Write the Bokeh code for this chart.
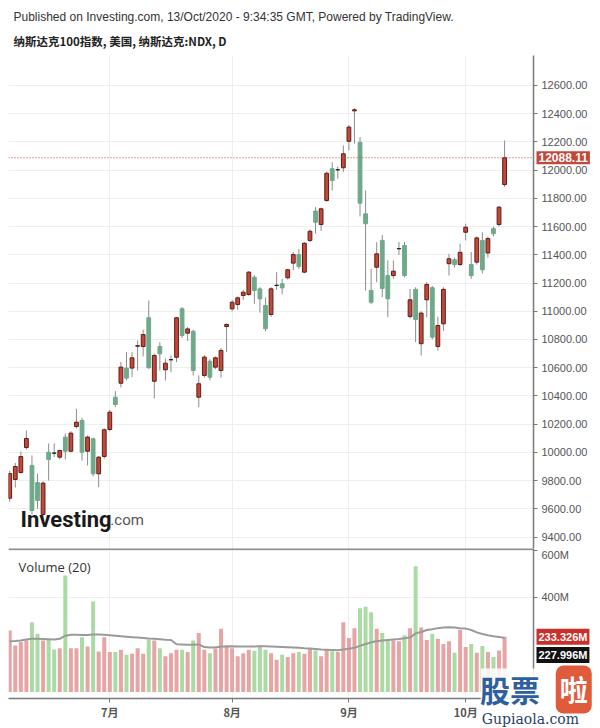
from bokeh.plotting import figure
from bokeh.models import (Range1d, FixedTicker, NumeralTickFormatter, Label, Span, ColumnDataSource, GridBox,
                          BoxAnnotation)
from bokeh.layouts import column
from bokeh.embed import file_html
from bokeh.resources import INLINE

# ---------------- data (NASDAQ 100, daily) ----------------
dates = [
    "2020-06-05", "2020-06-08", "2020-06-09", "2020-06-10", "2020-06-11", "2020-06-12", "2020-06-15", "2020-06-16",
    "2020-06-17", "2020-06-18", "2020-06-19", "2020-06-22", "2020-06-23", "2020-06-24", "2020-06-25", "2020-06-26",
    "2020-06-29", "2020-06-30",
    "2020-07-01", "2020-07-02", "2020-07-06", "2020-07-07", "2020-07-08", "2020-07-09", "2020-07-10", "2020-07-13",
    "2020-07-14", "2020-07-15", "2020-07-16", "2020-07-17", "2020-07-20", "2020-07-21", "2020-07-22", "2020-07-23",
    "2020-07-24", "2020-07-27", "2020-07-28", "2020-07-29", "2020-07-30", "2020-07-31",
    "2020-08-03", "2020-08-04", "2020-08-05", "2020-08-06", "2020-08-07", "2020-08-10", "2020-08-11", "2020-08-12",
    "2020-08-13", "2020-08-14", "2020-08-17", "2020-08-18", "2020-08-19", "2020-08-20", "2020-08-21", "2020-08-24",
    "2020-08-25", "2020-08-26", "2020-08-27", "2020-08-28", "2020-08-31",
    "2020-09-01", "2020-09-02", "2020-09-03", "2020-09-04", "2020-09-08", "2020-09-09", "2020-09-10", "2020-09-11",
    "2020-09-14", "2020-09-15", "2020-09-16", "2020-09-17", "2020-09-18", "2020-09-21", "2020-09-22", "2020-09-23",
    "2020-09-24", "2020-09-25", "2020-09-28", "2020-09-29", "2020-09-30",
    "2020-10-01", "2020-10-02", "2020-10-05", "2020-10-06", "2020-10-07", "2020-10-08", "2020-10-09", "2020-10-12",
]

opens = [
    9675, 9808, 9857, 10034, 9907, 9786, 9560, 10001, 9995, 9966, 10108, 10008, 10183, 10226, 10008, 10096, 9848, 9971,
    10162, 10391, 10490, 10597, 10597, 10752, 10750, 10954, 10504, 10750, 10585, 10656, 10674, 11017, 10845, 10858,
    10391, 10545, 10646, 10604, 10580, 10892,
    11017, 11048, 11112, 11119, 11241, 11159, 11041, 10977, 11183, 11195, 11237, 11341, 11402, 11277, 11502, 11710,
    11615, 11785, 12010, 12002, 12017,
    12205, 12420, 12198, 11691, 11147, 11312, 11502, 11253, 11253, 11443, 11466, 10963, 11155, 10770, 11081, 11167,
    10750, 10911, 11337, 11365, 11331,
    11560, 11331, 11348, 11502, 11413, 11585, 11615, 11898,
]
highs = [
    9870, 9925, 10006, 10155, 9978, 9850, 9795, 10063, 10063, 10020, 10134, 10150, 10309, 10245, 10120, 10105, 9975, 10170,
    10300, 10434, 10640, 10710, 10710, 10793, 10870, 11076, 10700, 10781, 10665, 10687, 10960, 11030, 10890, 10870,
    10545, 10690, 10660, 10680, 10740, 10915,
    11080, 11105, 11150, 11285, 11255, 11170, 11097, 11170, 11277, 11230, 11300, 11420, 11440, 11490, 11580, 11738,
    11735, 11990, 12056, 12026, 12175,
    12320, 12439, 12234, 11856, 11300, 11490, 11540, 11360, 11360, 11490, 11490, 11159, 11170, 11000, 11206, 11180,
    10960, 11170, 11407, 11380, 11480,
    11620, 11420, 11530, 11560, 11530, 11600, 11745, 12210,
]
lows = [
    9650, 9751, 9850, 10020, 9560, 9600, 9500, 9800, 9966, 9950, 9950, 10000, 10170, 9942, 9907, 9830, 9753, 9955,
    10150, 10320, 10460, 10510, 10533, 10580, 10680, 10590, 10382, 10580, 10510, 10568, 10640, 10810, 10790, 10545,
    10320, 10530, 10510, 10590, 10530, 10710,
    11000, 11010, 11080, 11110, 11053, 10990, 10858, 10960, 11152, 11120, 11225, 11290, 11300, 11270, 11490, 11549,
    11570, 11775, 11856, 11939, 11986,
    12139, 12187, 11672, 11147, 11050, 11206, 11100, 10958, 11230, 11400, 11240, 10947, 10781, 10686, 10958, 10800,
    10720, 10860, 11253, 11310, 11320,
    11502, 11230, 11330, 11268, 11380, 11530, 11600, 11880,
]
closes = [
    9850, 9900, 9970, 10098, 9588, 9659, 9782, 9950, 9994, 10013, 10008, 10136, 10214, 10001, 10108, 9848, 9966, 10160,
    10285, 10339, 10604, 10526, 10670, 10756, 10835, 10600, 10687, 10698, 10632, 10657, 10954, 10828, 10875, 10580,
    10486, 10675, 10533, 10670, 10722, 10906,
    11064, 11095, 11135, 11277, 11147, 11088, 10876, 11159, 11184, 11166, 11294, 11402, 11317, 11482, 11567, 11631,
    11726, 11978, 11927, 12003, 12116,
    12305, 12428, 11766, 11620, 11064, 11407, 11161, 11088, 11284, 11444, 11253, 11081, 10942, 10987, 11190, 10816,
    10899, 11155, 11372, 11331, 11418,
    11596, 11253, 11520, 11294, 11515, 11549, 11738, 12088.11,
]
# volume in millions
volumes = [
    260, 197, 211, 218, 295, 246, 218, 225, 180, 185, 493, 185, 185, 232, 192, 383, 171, 232,
    169, 169, 179, 157, 162, 185, 162, 222, 218, 185, 151, 164, 179, 179, 169, 218, 249, 179, 164, 183, 267, 197,
    185, 151, 164, 179, 174, 197, 179, 164, 136, 157, 148, 164, 169, 162, 185, 176, 151, 179, 172, 169, 295,
    228, 270, 354, 361, 337, 267, 249, 220, 218, 215, 240, 270, 532, 273, 220, 246, 225, 203, 215, 166, 263,
    190, 203, 166, 194, 169, 148, 176, 233.326,
]
# Volume MA(20) line (millions)
vol_ma = [
    215, 216, 218, 222, 225, 225, 224, 223, 222, 225, 238, 242, 242, 241, 241, 243, 243, 242,
    240, 238, 236, 234, 232, 230, 228, 226, 225, 223, 221, 220, 202, 201, 200, 200, 201, 190, 188, 188, 192, 192,
    193, 192, 192, 192, 192, 193, 193, 192, 191, 190, 189, 188, 187, 185, 184, 182, 180, 179, 178, 177, 180,
    183, 187, 195, 203, 210, 215, 218, 220, 222, 224, 227, 230, 248, 254, 262, 265, 270, 273, 274, 273, 270,
    268, 262, 252, 245, 240, 236, 233, 227.996,
]
month_labels = ["7月", "8月", "9月", "10月"]
price_ticks = [9400, 9600, 9800, 10000, 10200, 10400, 10600, 10800, 11000, 11200, 11400, 11600, 11800, 12000,
               12200, 12400, 12600]
vol_ticks = [400, 600]
vol_tick_labels = ["400M", "600M"]

title_line1 = "Published on Investing.com, 13/Oct/2020 - 9:34:35 GMT, Powered by TradingView."
title_line2 = "纳斯达克100指数, 美国, 纳斯达克:NDX, D"

# ---------------- derived ----------------
n = len(dates)
xs = list(range(n))
month_idx = []
seen = set()
for i, d in enumerate(dates):
    m = d[5:7]
    if m not in seen:
        seen.add(m)
        if m != "06":
            month_idx.append(i)

RED = "#c4473a"
RED_LINE = "#5c1f17"
GREEN = "#6fa98a"
WICK = "#8c8c8c"
fills, lines, tops, bottoms = [], [], [], []
vcols = []
for o, c in zip(opens, closes):
    upc = c >= o
    fills.append(RED if upc else GREEN)
    if abs(c - o) < 3:
        lines.append("#222222")
    else:
        lines.append(RED_LINE if upc else GREEN)
    tops.append(max(o, c))
    bottoms.append(min(o, c))
    vcols.append("#e6a4a4" if upc else "#aadba4")

src = ColumnDataSource(dict(x=xs, o=opens, h=highs, l=lows, c=closes, top=tops, bottom=bottoms,
                            fill=fills, line=lines, vol=volumes, vcol=vcols, ma=vol_ma))

# layout geometry (pixels)
W, H_PRICE, H_VOL = 600, 548, 180
LEFT, RIGHT_AXIS, TOP, VOL_BOTTOM = 8, 67, 55, 30
X0, X1 = -0.22, 94.2
PY0, PY1 = 9318.6, 12812.6
VY0, VY1 = -27.5, 606.8

xr = Range1d(X0, X1)

# ---------------- price pane ----------------
p = figure(width=W, height=H_PRICE, x_range=xr, y_range=Range1d(PY0, PY1),
           output_backend="svg", toolbar_location=None, y_axis_location="right", x_axis_location=None,
           min_border_left=LEFT, min_border_right=RIGHT_AXIS, min_border_top=TOP, min_border_bottom=0)
p.outline_line_color = None
p.ygrid.ticker = FixedTicker(ticks=price_ticks)
p.ygrid.grid_line_color = "#efefef"
p.xgrid.ticker = FixedTicker(ticks=month_idx)
p.xgrid.grid_line_color = "#efefef"

ax = p.yaxis[0]
ax.ticker = FixedTicker(ticks=price_ticks)
ax.formatter = NumeralTickFormatter(format="0.00")
ax.axis_line_color = "#7a7a7a"
ax.axis_line_width = 1.5
ax.major_tick_line_color = "#7a7a7a"
ax.major_tick_out = 4
ax.major_tick_in = 0
ax.minor_tick_line_color = None
ax.major_label_text_font = "Liberation Sans"
ax.major_label_text_font_size = "11px"
ax.major_label_text_color = "#555555"
ax.major_label_standoff = 4

p.segment(x0="x", y0="h", x1="x", y1="l", source=src, line_color=WICK, line_width=1)
p.vbar(x="x", width=0.68, top="top", bottom="bottom", source=src, fill_color="fill", line_color="line",
       line_width=1)

last = closes[-1]
p.add_layout(Span(location=last, dimension="width", line_color="#b8453a", line_dash="1 2", line_width=1))

p.add_layout(Label(x=1.94, y=9524, text="Investing", text_baseline="alphabetic", text_align="left",
                   text_color="#1a1a1a", text_font="Roboto", text_font_style="bold",
                   text_font_size="22px"))
p.add_layout(Label(x=18.1, y=9524, text=".com", text_baseline="alphabetic", text_align="left",
                   text_color="#555555", text_font="Roboto", text_font_size="15px"))

# ---------------- volume pane ----------------
v = figure(width=W, height=H_VOL, x_range=xr, y_range=Range1d(VY0, VY1),
           output_backend="svg", toolbar_location=None, y_axis_location="right",
           min_border_left=LEFT, min_border_right=RIGHT_AXIS, min_border_top=0, min_border_bottom=VOL_BOTTOM)
v.outline_line_color = None
v.xgrid.ticker = FixedTicker(ticks=month_idx)
v.xgrid.grid_line_color = "#efefef"
v.ygrid.grid_line_color = "#efefef"

vy = v.yaxis[0]
vy.ticker = FixedTicker(ticks=vol_ticks)
vy.major_label_overrides = {t: s for t, s in zip(vol_ticks, vol_tick_labels)}
vy.axis_line_color = "#7a7a7a"
vy.axis_line_width = 1.5
vy.major_tick_line_color = "#7a7a7a"
vy.major_tick_out = 4
vy.major_tick_in = 0
vy.minor_tick_line_color = None
vy.major_label_text_font = "Liberation Sans"
vy.major_label_text_font_size = "11px"
vy.major_label_text_color = "#555555"
vy.major_label_standoff = 4

vx = v.xaxis[0]
vx.ticker = FixedTicker(ticks=month_idx)
vx.major_label_overrides = {i: s for i, s in zip(month_idx, month_labels)}
vx.axis_line_color = "#7a7a7a"
vx.axis_line_width = 1.5
vx.major_tick_line_color = "#7a7a7a"
vx.major_tick_out = 4
vx.major_tick_in = 0
vx.minor_tick_line_color = None
vx.major_label_text_font = "Noto Sans CJK SC"
vx.major_label_text_font_size = "11px"
vx.major_label_text_font_style = "bold"
vx.major_label_text_color = "#555555"
vx.major_label_standoff = 1

v.add_layout(Span(location=604.5, dimension="width", line_color="#666666", line_width=1.5))
v.vbar(x="x", width=0.72, top="vol", bottom=0, source=src, fill_color="vcol", line_color=None)
v.line(x="x", y="ma", source=src, line_color="#9a9a9a", line_width=2)

v.add_layout(Label(x=1.6, y=530, text="Volume (20)", text_baseline="middle", text_align="left",
                   text_color="#333333", text_font="Open Sans", text_font_size="13px"))

# ---------------- transparent overlay (texts that sit outside the plot frames) ----------------
# same scales as the panes, frames widened to the full canvas so labels are not clipped
px_per_x = (W - LEFT - RIGHT_AXIS) / (X1 - X0)
ox1 = X0 + (W - LEFT) / px_per_x
py_per = (H_PRICE - TOP) / (PY1 - PY0)
vy_per = (H_VOL - VOL_BOTTOM) / (VY1 - VY0)


def overlay_fig(h, yr):
    f = figure(width=W, height=h, x_range=Range1d(X0, ox1), y_range=yr, output_backend="svg",
               toolbar_location=None, x_axis_location=None, y_axis_location=None,
               min_border_left=LEFT, min_border_right=0, min_border_top=0, min_border_bottom=0)
    f.outline_line_color = None
    f.background_fill_color = None
    f.background_fill_alpha = 0
    f.border_fill_color = None
    f.border_fill_alpha = 0
    f.xgrid.visible = False
    f.ygrid.visible = False
    return f


po = overlay_fig(H_PRICE, Range1d(PY0, PY1 + TOP / py_per))
vo = overlay_fig(H_VOL, Range1d(VY0 - VOL_BOTTOM / vy_per, VY1))

po.add_layout(Label(x=0.68, y=13084, text=title_line1, text_baseline="middle", text_align="left",
                    text_color="#333333", text_font="Liberation Sans", text_font_size="12px"))
po.add_layout(Label(x=0.68, y=12912, text=title_line2, text_baseline="middle", text_align="left",
                    text_color="#222222", text_font="Noto Sans CJK SC", text_font_style="bold",
                    text_font_size="11.5px"))
po.add_layout(Label(x=X1, y=last, text=f"{last:.2f}", x_offset=3, text_baseline="middle", text_align="left",
                    text_color="white", text_font="Liberation Sans", text_font_style="bold",
                    text_font_size="12px", background_fill_color=RED, padding=2))

# watermark of the reposting site (white backdrop first)
vo.add_layout(BoxAnnotation(left=84.7, right=ox1, bottom=VY0 - VOL_BOTTOM / vy_per, top=99,
                            fill_color="white", fill_alpha=0.88, line_color=None))
vo.add_layout(Label(x=X1, y=volumes[-1], text=f"{volumes[-1]:.3f}M", x_offset=3, text_baseline="middle",
                    text_align="left", text_color="white", text_font="Liberation Sans",
                    text_font_style="bold", text_font_size="11px", background_fill_color="#c9302c", padding=2))
vo.add_layout(Label(x=X1, y=vol_ma[-1], text=f"{vol_ma[-1]:.3f}M", x_offset=3, y_offset=-17,
                    text_baseline="middle", text_align="left", text_color="white",
                    text_font="Liberation Sans", text_font_style="bold", text_font_size="11px",
                    background_fill_color="#111111", padding=2))
vo.add_layout(Label(x=84.6, y=10.6, text="股票", text_baseline="middle", text_align="left",
                    text_color="#2f5f9e", text_font="Noto Sans CJK SC", text_font_style="bold",
                    text_font_size="30px"))
vo.add_layout(Label(x=98.2, y=10.6, text="啦", text_baseline="middle", text_align="left",
                    text_color="white", text_font="Noto Sans CJK SC", text_font_style="bold",
                    text_font_size="28px", background_fill_color="#e05a3c", padding=4, border_radius=8))
vo.add_layout(Label(x=84.9, y=-116, text="Gupiaola.com", text_baseline="alphabetic", text_align="left",
                    text_color="#2a3f66", text_font="DejaVu Serif", text_font_size="14px"))

main = column(p, v, spacing=0)
over = column(po, vo, spacing=0)
layout = GridBox(children=[(main, 0, 0), (over, 0, 0)])
open("out.html", "w").write(file_html(layout, INLINE))
